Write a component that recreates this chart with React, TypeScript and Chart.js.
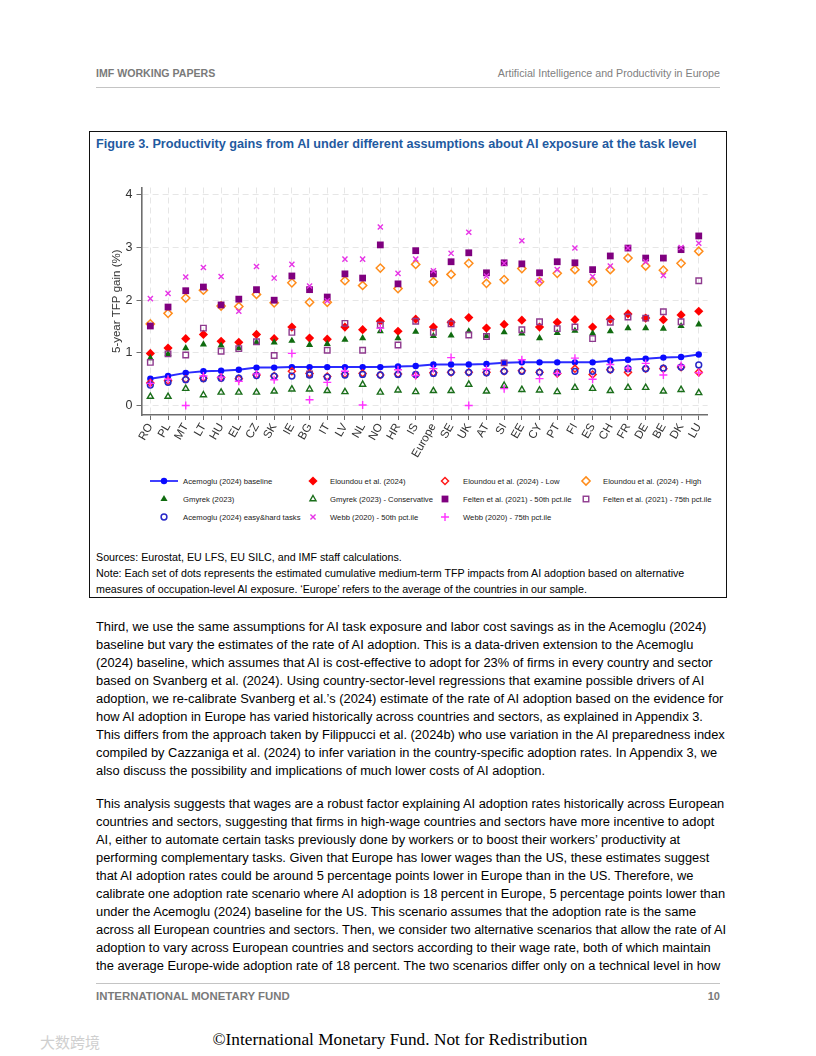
import React, { useEffect, useRef } from "react";
import { Chart, registerables } from "chart.js";
Chart.register(...registerables);

// ---------------- DATA ----------------
const countries = ["RO","PL","MT","LT","HU","EL","CZ","SK","IE","BG","IT","LV","NL","NO","HR","IS","Europe","SE","UK","AT","SI","EE","CY","PT","FI","ES","CH","FR","DE","BE","DK","LU"];

const acemogluBaseline = [0.51,0.56,0.62,0.65,0.66,0.68,0.72,0.72,0.73,0.73,0.73,0.73,0.73,0.73,0.74,0.75,0.78,0.78,0.78,0.79,0.81,0.82,0.82,0.82,0.82,0.82,0.85,0.87,0.89,0.91,0.92,0.97];
const eloundou = [0.99,1.09,1.27,1.35,1.22,1.20,1.35,1.27,1.49,1.28,1.26,1.49,1.44,1.60,1.41,1.64,1.49,1.58,1.67,1.47,1.54,1.62,1.49,1.58,1.63,1.49,1.64,1.74,1.66,1.63,1.72,1.79];
const eloundouLow = [0.43,0.47,0.50,0.52,0.53,0.51,0.58,0.56,0.65,0.61,0.55,0.60,0.61,0.58,0.60,0.58,0.62,0.63,0.63,0.63,0.65,0.66,0.63,0.61,0.70,0.59,0.68,0.63,0.70,0.70,0.73,0.63];
const eloundouHigh = [1.55,1.75,2.04,2.19,1.89,1.88,2.11,1.95,2.33,1.96,1.96,2.37,2.28,2.61,2.22,2.68,2.35,2.49,2.70,2.32,2.39,2.60,2.35,2.51,2.58,2.35,2.58,2.80,2.65,2.57,2.70,2.93];
const gmyrek = [0.90,0.98,1.09,1.16,1.14,1.09,1.20,1.20,1.23,1.15,1.17,1.25,1.28,1.41,1.28,1.40,1.32,1.33,1.41,1.32,1.39,1.37,1.28,1.38,1.42,1.37,1.41,1.47,1.47,1.46,1.51,1.54];
const gmyrekConservative = [0.17,0.17,0.32,0.20,0.25,0.25,0.25,0.27,0.31,0.31,0.28,0.26,0.40,0.25,0.29,0.26,0.28,0.28,0.40,0.27,0.38,0.30,0.29,0.26,0.34,0.32,0.28,0.34,0.34,0.27,0.30,0.24];
const felten50 = [1.51,1.87,2.18,2.25,1.91,2.02,2.20,2.00,2.46,2.20,2.06,2.50,2.42,3.05,2.31,2.94,2.50,2.73,2.90,2.52,2.71,2.69,2.52,2.73,2.71,2.58,2.84,2.99,2.80,2.80,2.96,3.22];
const felten75 = [0.82,0.98,0.96,1.47,1.03,1.08,1.21,0.95,1.39,0.60,1.05,1.56,1.05,1.53,1.15,1.60,1.39,1.55,1.34,1.31,0.81,1.44,1.59,1.46,1.49,1.27,1.58,1.68,1.66,1.78,1.59,2.37];
const acemogluEasyHard = [0.39,0.44,0.49,0.51,0.52,0.52,0.57,0.56,0.56,0.58,0.54,0.58,0.59,0.58,0.59,0.59,0.61,0.63,0.63,0.62,0.65,0.65,0.63,0.63,0.65,0.65,0.68,0.70,0.70,0.71,0.73,0.77];
const webb50 = [2.03,2.13,2.44,2.62,2.45,1.79,2.64,2.42,2.68,2.27,1.99,2.78,2.78,3.39,2.51,2.78,2.56,2.89,3.29,2.46,2.70,3.13,2.37,2.58,2.99,2.45,2.65,2.99,2.73,2.47,3.00,3.08];
const webb75 = [0.42,0.50,0.00,0.56,0.54,0.46,0.60,0.49,0.99,0.11,0.44,0.65,0.01,1.47,0.68,0.57,0.70,0.91,0.00,0.69,0.32,0.87,0.51,0.61,0.90,0.50,0.78,0.71,0.80,0.58,0.76,0.62];

const yTickValues = [0, 1, 2, 3, 4];
const yAxisTitle = "5-year TFP gain (%)";

const seriesLabels = [
  "Acemoglu (2024) baseline",
  "Eloundou et al. (2024)",
  "Eloundou et al. (2024) - Low",
  "Eloundou et al. (2024) - High",
  "Gmyrek (2023)",
  "Gmyrek (2023) - Conservative",
  "Felten et al. (2021) - 50th pct.ile",
  "Felten et al. (2021) - 75th pct.ile",
  "Acemoglu (2024) easy&hard tasks",
  "Webb (2020) - 50th pct.ile",
  "Webb (2020) - 75th pct.ile",
];

// ---------------- STYLES ----------------
const SANS = '"Liberation Sans", Arial, Helvetica, sans-serif';
type Kind = "circle" | "diamond" | "triangle" | "square" | "x" | "plus";
type Sty = { kind: Kind; color: string; filled: boolean; r: number; bw: number };

const styles: Sty[] = [
  { kind: "circle", color: "#0a0aff", filled: true, r: 3.2, bw: 0 },
  { kind: "diamond", color: "#ff0000", filled: true, r: 4.6, bw: 0 },
  { kind: "diamond", color: "#ff1a1a", filled: false, r: 3.5, bw: 1.5 },
  { kind: "diamond", color: "#ff8c1a", filled: false, r: 4.1, bw: 1.5 },
  { kind: "triangle", color: "#0f6b0f", filled: true, r: 4.1, bw: 0 },
  { kind: "triangle", color: "#1a6e1a", filled: false, r: 3.5, bw: 1.4 },
  { kind: "square", color: "#7f007f", filled: true, r: 4.8, bw: 0 },
  { kind: "square", color: "#8e3a8e", filled: false, r: 3.9, bw: 1.4 },
  { kind: "circle", color: "#2828c8", filled: false, r: 2.9, bw: 1.5 },
  { kind: "x", color: "#e633e6", filled: false, r: 3.6, bw: 1.4 },
  { kind: "plus", color: "#ff33ff", filled: false, r: 4.0, bw: 1.4 },
];
const seriesData = [acemogluBaseline, eloundou, eloundouLow, eloundouHigh, gmyrek, gmyrekConservative, felten50, felten75, acemogluEasyHard, webb50, webb75];

const cjsStyle: Record<Kind, string> = {
  circle: "circle", diamond: "rectRot", triangle: "triangle", square: "rect", x: "crossRot", plus: "cross",
};

function LegendMarker({ s, line }: { s: Sty; line?: boolean }) {
  const W = line ? 28 : 12;
  const cx = W / 2, cy = 6;
  const stroke = s.color;
  const fill = s.filled ? s.color : "none";
  let shape: any = null;
  const r = s.r;
  if (s.kind === "circle") shape = <circle cx={cx} cy={cy} r={r} fill={fill} stroke={s.filled ? "none" : stroke} strokeWidth={s.bw} />;
  if (s.kind === "diamond") shape = <polygon points={`${cx},${cy - r} ${cx + r},${cy} ${cx},${cy + r} ${cx - r},${cy}`} fill={fill} stroke={s.filled ? "none" : stroke} strokeWidth={s.bw} />;
  if (s.kind === "triangle") {
    const h = r * 0.866;
    shape = <polygon points={`${cx},${cy - r} ${cx + h},${cy + r / 2} ${cx - h},${cy + r / 2}`} fill={fill} stroke={s.filled ? "none" : stroke} strokeWidth={s.bw} />;
  }
  if (s.kind === "square") {
    const h = r * 0.707;
    shape = <rect x={cx - h} y={cy - h} width={2 * h} height={2 * h} fill={fill} stroke={s.filled ? "none" : stroke} strokeWidth={s.bw} />;
  }
  if (s.kind === "x") {
    const h = r * 0.707;
    shape = <path d={`M${cx - h},${cy - h}L${cx + h},${cy + h}M${cx - h},${cy + h}L${cx + h},${cy - h}`} stroke={stroke} strokeWidth={s.bw} />;
  }
  if (s.kind === "plus") shape = <path d={`M${cx - r},${cy}L${cx + r},${cy}M${cx},${cy - r}L${cx},${cy + r}`} stroke={stroke} strokeWidth={s.bw} />;
  return (
    <svg width={W} height={12} style={{ display: "block" }}>
      {line ? <line x1={0} y1={cy} x2={W} y2={cy} stroke="#2b2bff" strokeWidth={1.8} /> : null}
      {shape}
    </svg>
  );
}

const legendCols = [{ m: 164, t: 183 }, { m: 313, t: 330 }, { m: 445, t: 463 }, { m: 586, t: 603 }];
const legendRows = [481, 499, 517];
const legendLayout = [
  [0, 0], [1, 0], [2, 0], [3, 0],
  [0, 1], [1, 1], [2, 1], [3, 1],
  [0, 2], [1, 2], [2, 2],
];

const para1 = [
  "Third, we use the same assumptions for AI task exposure and labor cost savings as in the Acemoglu (2024)",
  "baseline but vary the estimates of the rate of AI adoption. This is a data-driven extension to the Acemoglu",
  "(2024) baseline, which assumes that AI is cost-effective to adopt for 23% of firms in every country and sector",
  "based on Svanberg et al. (2024). Using country-sector-level regressions that examine possible drivers of AI",
  "adoption, we re-calibrate Svanberg et al.’s (2024) estimate of the rate of AI adoption based on the evidence for",
  "how AI adoption in Europe has varied historically across countries and sectors, as explained in Appendix 3.",
  "This differs from the approach taken by Filippucci et al. (2024b) who use variation in the AI preparedness index",
  "compiled by Cazzaniga et al. (2024) to infer variation in the country-specific adoption rates. In Appendix 3, we",
  "also discuss the possibility and implications of much lower costs of AI adoption.",
];
const para2 = [
  "This analysis suggests that wages are a robust factor explaining AI adoption rates historically across European",
  "countries and sectors, suggesting that firms in high-wage countries and sectors have more incentive to adopt",
  "AI, either to automate certain tasks previously done by workers or to boost their workers’ productivity at",
  "performing complementary tasks. Given that Europe has lower wages than the US, these estimates suggest",
  "that AI adoption rates could be around 5 percentage points lower in Europe than in the US. Therefore, we",
  "calibrate one adoption rate scenario where AI adoption is 18 percent in Europe, 5 percentage points lower than",
  "under the Acemoglu (2024) baseline for the US. This scenario assumes that the adoption rate is the same",
  "across all European countries and sectors. Then, we consider two alternative scenarios that allow the rate of AI",
  "adoption to vary across European countries and sectors according to their wage rate, both of which maintain",
  "the average Europe-wide adoption rate of 18 percent. The two scenarios differ only on a technical level in how",
];

function T({ x, y, size, text, bold, color, family, align, lh }: any) {
  const h = lh || Math.round(size * 1.4);
  const style: any = {
    position: "absolute", top: y - h / 2, height: h, lineHeight: h + "px",
    fontSize: size, fontFamily: family || SANS, fontWeight: bold ? 700 : 400,
    color: color || "#000", whiteSpace: "nowrap",
  };
  if (align === "right") { style.right = 816 - x; style.textAlign = "right"; }
  else if (align === "center") { style.left = x - 300; style.width = 600; style.textAlign = "center"; }
  else style.left = x;
  return <div style={style}>{text}</div>;
}

function ChartCanvas() {
  const ref = useRef<HTMLCanvasElement>(null);
  useEffect(() => {
    if (!ref.current) return;
    const datasets = seriesData.map((d, i) => {
      const s = styles[i];
      return {
        label: seriesLabels[i],
        data: d,
        showLine: i === 0,
        borderColor: i === 0 ? "#2b2bff" : s.color,
        borderWidth: i === 0 ? 2 : 0,
        pointStyle: cjsStyle[s.kind],
        pointRadius: s.r,
        pointHoverRadius: s.r,
        pointBackgroundColor: s.filled ? s.color : "rgba(0,0,0,0)",
        pointBorderColor: s.color,
        pointBorderWidth: s.filled ? 0 : s.bw,
        order: -i,
        clip: false as any,
      };
    });
    const chart = new Chart(ref.current, {
      type: "line",
      data: { labels: countries, datasets: datasets as any },
      options: {
        animation: false,
        responsive: false,
        devicePixelRatio: 1,
        layout: { padding: { top: 10.7, right: 12.4, left: 0, bottom: 0 } },
        plugins: { legend: { display: false }, tooltip: { enabled: false } },
        scales: {
          x: {
            type: "category",
            offset: true,
            grid: { offset: false, color: "#e6e6e6", lineWidth: 1, drawTicks: true, tickLength: 5, tickColor: "#6e6e6e", tickWidth: 1 },
            border: { display: true, color: "#6e6e6e", width: 1.6, dash: [6, 4] },
            ticks: { autoSkip: false, maxRotation: 60, minRotation: 60, padding: 1, color: "#333", font: { family: SANS, size: 11.5 } },
            afterFit: (s: any) => { s.height = 51; },
          },
          y: {
            type: "linear",
            min: -0.18,
            max: 4.14,
            afterBuildTicks: (s: any) => { s.ticks = yTickValues.map((v) => ({ value: v })); },
            grid: { color: "#e6e6e6", lineWidth: 1, drawTicks: true, tickLength: 5, tickColor: "#6e6e6e", tickWidth: 1 },
            border: { display: true, color: "#6e6e6e", width: 1.6, dash: [6, 4] },
            ticks: { padding: 4, color: "#333", font: { family: SANS, size: 12.5 } },
            title: { display: true, text: yAxisTitle, color: "#333", font: { family: SANS, size: 11.5 }, padding: { top: 14, bottom: 0 } },
            afterFit: (s: any) => { s.width = 45.5; },
          },
        },
      },
    });
    return () => chart.destroy();
  }, []);
  return <canvas ref={ref} width={624} height={290} style={{ position: "absolute", left: 96, top: 176, width: 624, height: 290 }} />;
}

export default function App() {
  return (
    <div style={{ position: "absolute", left: 0, top: 0, width: 816, height: 1056, background: "#fff", overflow: "hidden" }}>
      {/* header */}
      <T x={96} y={73} size={10.6} bold text="IMF WORKING PAPERS" color="#7a7a7a" />
      <T x={720} y={73} size={10.7} text="Artificial Intelligence and Productivity in Europe" color="#808080" align="right" />
      <div style={{ position: "absolute", left: 96, top: 87, width: 624, height: 1, background: "#c4c4c4" }} />

      {/* figure box */}
      <div style={{ position: "absolute", left: 89, top: 131, width: 636, height: 465, border: "1.5px solid #111" }} />
      <T x={96} y={144} size={12.7} bold text="Figure 3. Productivity gains from AI under different assumptions about AI exposure at the task level" color="#1f5aa0" />
      <ChartCanvas />

      {/* legend */}
      {legendLayout.map(([c, r], i) => (
        <React.Fragment key={i}>
          <div style={{ position: "absolute", left: legendCols[c].m - (i === 0 ? 14 : 6), top: legendRows[r] - 6 }}>
            <LegendMarker s={styles[i]} line={i === 0} />
          </div>
          <T x={legendCols[c].t} y={legendRows[r]} size={7.7} text={seriesLabels[i]} color="#222" />
        </React.Fragment>
      ))}

      <T x={96} y={557} size={10.7} text="Sources: Eurostat, EU LFS, EU SILC, and IMF staff calculations." />
      <T x={96} y={573} size={10.7} text="Note: Each set of dots represents the estimated cumulative medium-term TFP impacts from AI adoption based on alternative" />
      <T x={96} y={589} size={10.7} text="measures of occupation-level AI exposure. ‘Europe’ refers to the average of the countries in our sample." />

      {para1.map((l, i) => <T key={"a" + i} x={96} y={627 + i * 18} size={12.85} lh={18} text={l} />)}
      {para2.map((l, i) => <T key={"b" + i} x={96} y={804 + i * 18} size={12.85} lh={18} text={l} />)}

      {/* footer */}
      <div style={{ position: "absolute", left: 96, top: 983, width: 624, height: 1, background: "#c4c4c4" }} />
      <T x={96} y={996} size={11.4} bold text="INTERNATIONAL MONETARY FUND" color="#7a7a7a" />
      <T x={720} y={996} size={11} bold text="10" color="#7a7a7a" align="right" />
      <T x={400} y={1040} size={17.3} family='"Liberation Serif", "Times New Roman", serif' text="©International Monetary Fund. Not for Redistribution" align="center" />
      <T x={40} y={1041} size={15} family='"Noto Sans CJK SC", sans-serif' text="大数跨境" color="#cfcfcf" />
    </div>
  );
}
